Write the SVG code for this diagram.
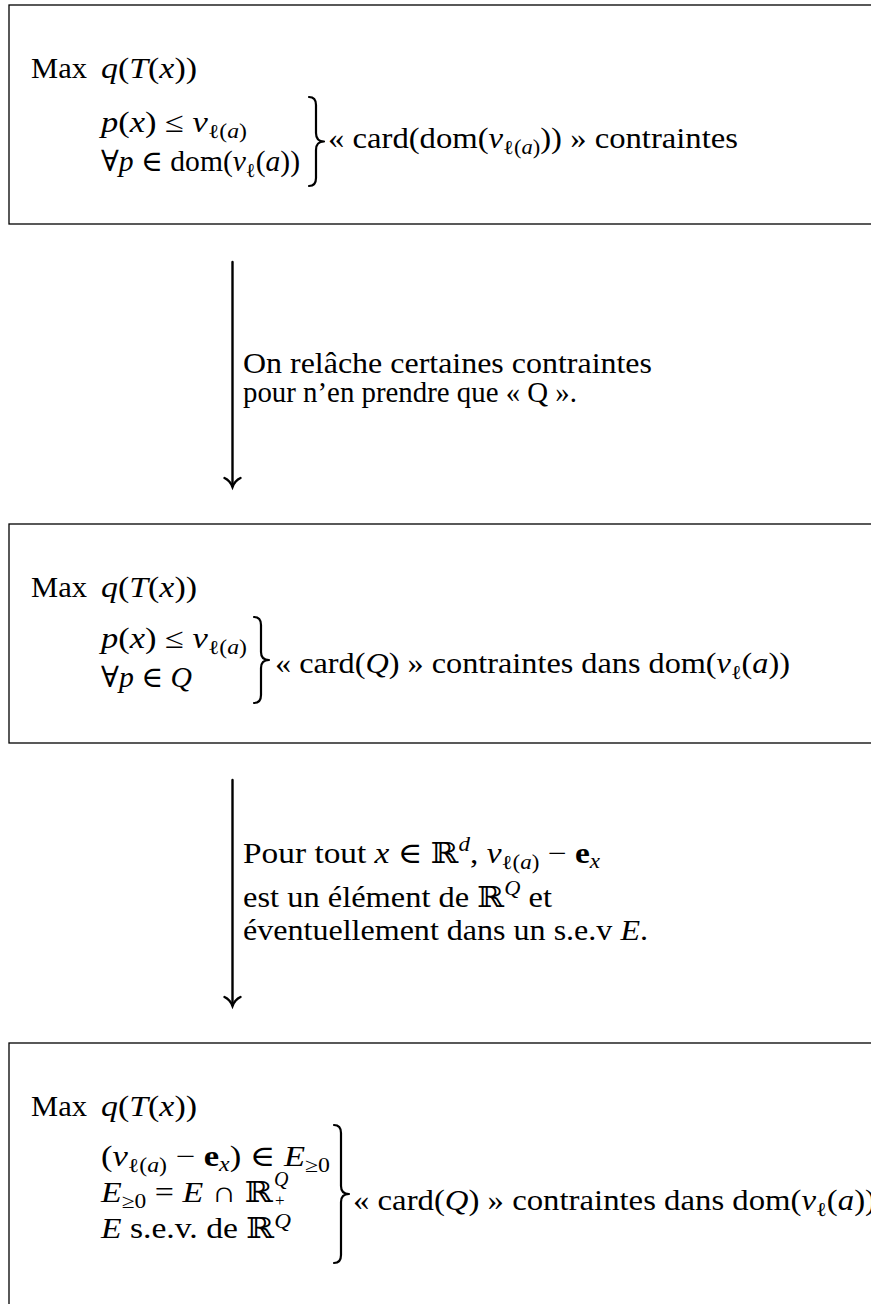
<svg xmlns="http://www.w3.org/2000/svg" width="871" height="1304" viewBox="0 0 871 1304">
<style>
.t{font-family:"Liberation Serif","DejaVu Serif",serif;font-size:29px;fill:#000}
.i{font-style:italic}
.s{font-size:20px}
.b{font-weight:bold}
.box{fill:none;stroke:#000;stroke-width:1.3}
.brace{fill:none;stroke:#000;stroke-width:2.2;stroke-linecap:round;stroke-linejoin:round}
.arr{fill:none;stroke:#000;stroke-width:2.4;stroke-linecap:round}
</style>
<rect x="0" y="0" width="871" height="1304" fill="#fff"/>

<g id="box1">
<rect class="box" x="9" y="5" width="880" height="219"/>
<text class="t" x="31" y="78" textLength="56" lengthAdjust="spacingAndGlyphs">Max</text>
<text class="t" x="101" y="78" textLength="96" lengthAdjust="spacingAndGlyphs"><tspan class="i">q</tspan>(<tspan class="i">T</tspan>(<tspan class="i">x</tspan>))</text>
<text class="t" x="101" y="132" textLength="146" lengthAdjust="spacingAndGlyphs"><tspan class="i">p</tspan>(<tspan class="i">x</tspan>) ≤ <tspan class="i">v</tspan><tspan class="s" dy="6">ℓ(<tspan class="i">a</tspan>)</tspan></text>
<text class="t" x="101" y="171" textLength="199" lengthAdjust="spacingAndGlyphs">∀<tspan class="i">p</tspan> ∈ dom(<tspan class="i">v</tspan><tspan class="s" dy="6">ℓ</tspan><tspan dy="-6">(</tspan><tspan class="i">a</tspan>))</text>
<path class="brace" d="M309 97 Q316 97 316 105 L316 133 Q316 141.5 324 141.5 Q316 141.5 316 150 L316 178 Q316 186 309 186"/>
<text class="t" x="328" y="148" textLength="410" lengthAdjust="spacingAndGlyphs">« card(dom(<tspan class="i">v</tspan><tspan class="s" dy="6">ℓ(<tspan class="i">a</tspan>)</tspan><tspan dy="-6">))</tspan> » contraintes</text>
</g>

<g id="box2">
<rect class="box" x="9" y="524" width="880" height="219"/>
<text class="t" x="31" y="597" textLength="56" lengthAdjust="spacingAndGlyphs">Max</text>
<text class="t" x="101" y="597" textLength="96" lengthAdjust="spacingAndGlyphs"><tspan class="i">q</tspan>(<tspan class="i">T</tspan>(<tspan class="i">x</tspan>))</text>
<text class="t" x="101" y="648" textLength="146" lengthAdjust="spacingAndGlyphs"><tspan class="i">p</tspan>(<tspan class="i">x</tspan>) ≤ <tspan class="i">v</tspan><tspan class="s" dy="6">ℓ(<tspan class="i">a</tspan>)</tspan></text>
<text class="t" x="101" y="687" textLength="91" lengthAdjust="spacingAndGlyphs">∀<tspan class="i">p</tspan> ∈ <tspan class="i">Q</tspan></text>
<path class="brace" d="M254 617 Q261 617 261 625 L261 652 Q261 660 269 660 Q261 660 261 668 L261 695 Q261 703 254 703"/>
<text class="t" x="275" y="673" textLength="515" lengthAdjust="spacingAndGlyphs">« card(<tspan class="i">Q</tspan>) » contraintes dans dom(<tspan class="i">v</tspan><tspan class="s" dy="6">ℓ</tspan><tspan dy="-6">(</tspan><tspan class="i">a</tspan>))</text>
</g>

<g id="box3">
<rect class="box" x="9" y="1043" width="880" height="280"/>
<text class="t" x="31" y="1116" textLength="56" lengthAdjust="spacingAndGlyphs">Max</text>
<text class="t" x="101" y="1116" textLength="96" lengthAdjust="spacingAndGlyphs"><tspan class="i">q</tspan>(<tspan class="i">T</tspan>(<tspan class="i">x</tspan>))</text>
<text class="t" x="101" y="1166" textLength="229" lengthAdjust="spacingAndGlyphs">(<tspan class="i">v</tspan><tspan class="s" dy="6">ℓ(<tspan class="i">a</tspan>)</tspan><tspan dy="-6"> − </tspan><tspan class="b">e</tspan><tspan class="s i" dy="5">x</tspan><tspan dy="-5">) ∈ </tspan><tspan class="i">E</tspan><tspan class="s" dy="6">≥0</tspan></text>
<text class="t" x="101" y="1202" textLength="172" lengthAdjust="spacingAndGlyphs"><tspan class="i">E</tspan><tspan class="s" dy="6">≥0</tspan><tspan dy="-6"> = </tspan><tspan class="i">E</tspan> ∩ ℝ</text>
<text class="t s" x="274" y="1186"><tspan class="i">Q</tspan><tspan x="275" dy="20" font-size="17">+</tspan></text>
<text class="t" x="101" y="1238" textLength="190" lengthAdjust="spacingAndGlyphs"><tspan class="i">E</tspan> s.e.v. de ℝ<tspan class="s i" dy="-10">Q</tspan></text>
<path class="brace" d="M334 1125 Q341 1125 341 1133 L341 1186 Q341 1194 349 1194 Q341 1194 341 1202 L341 1255 Q341 1263 334 1263"/>
<text class="t" x="353" y="1210" textLength="523" lengthAdjust="spacingAndGlyphs">«  card(<tspan class="i">Q</tspan>) » contraintes dans dom(<tspan class="i">v</tspan><tspan class="s" dy="6">ℓ</tspan><tspan dy="-6">(</tspan><tspan class="i">a</tspan>))</text>
</g>

<g id="connectors">
<line class="arr" x1="232.5" y1="262" x2="232.5" y2="486"/>
<path class="arr" d="M224.5 478 Q230 480.5 232.5 487 Q235 480.5 240.5 478"/>
<text class="t" x="243" y="373" textLength="409" lengthAdjust="spacingAndGlyphs">On relâche certaines contraintes</text>
<text class="t" x="243" y="402" textLength="334" lengthAdjust="spacingAndGlyphs">pour n’en prendre que « Q ».</text>

<line class="arr" x1="232.5" y1="780" x2="232.5" y2="1005"/>
<path class="arr" d="M224.5 997 Q230 999.5 232.5 1006 Q235 999.5 240.5 997"/>
<text class="t" x="243" y="863" textLength="357" lengthAdjust="spacingAndGlyphs">Pour tout <tspan class="i">x</tspan> ∈ ℝ<tspan class="s i" dy="-12">d</tspan><tspan dy="12">, </tspan><tspan class="i">v</tspan><tspan class="s" dy="6">ℓ(<tspan class="i">a</tspan>)</tspan><tspan dy="-6"> − </tspan><tspan class="b">e</tspan><tspan class="s i" dy="5">x</tspan></text>
<text class="t" x="243" y="907" textLength="309" lengthAdjust="spacingAndGlyphs">est un élément de ℝ<tspan class="s i" dy="-12">Q</tspan><tspan dy="12"> et</tspan></text>
<text class="t" x="243" y="940" textLength="405" lengthAdjust="spacingAndGlyphs">éventuellement dans un s.e.v <tspan class="i">E</tspan>.</text>
</g>
</svg>
